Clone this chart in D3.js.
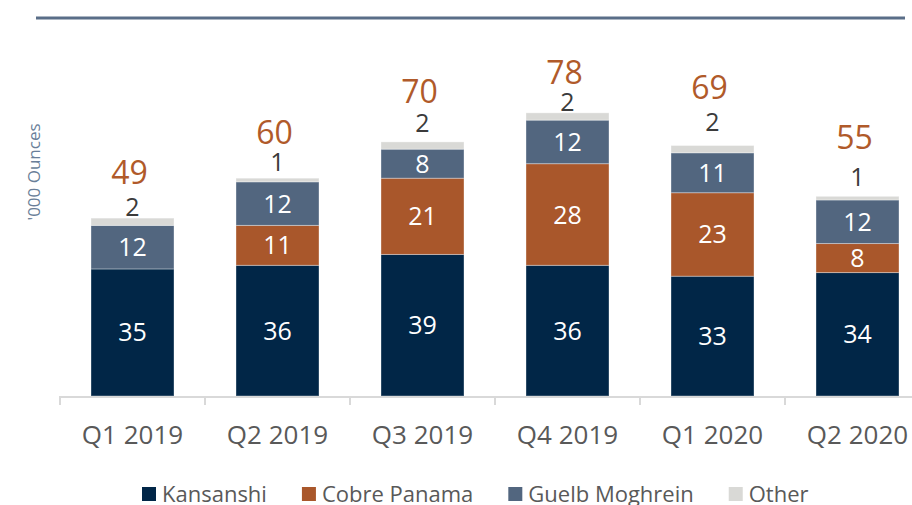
<!DOCTYPE html>
<html>
<head>
<meta charset="utf-8">
<script src="https://cdn.jsdelivr.net/npm/d3@7"></script>
<style>
    body { margin: 0; background: #fff; }
    text { font-family: "Open Sans", "Noto Sans", sans-serif; }
</style>
</head>
<body>
<div id="chart"></div>
<script>
// Data
var quarters = ["Q1 2019", "Q2 2019", "Q3 2019", "Q4 2019", "Q1 2020", "Q2 2020"];
var seriesNames = ["Kansanshi", "Cobre Panama", "Guelb Moghrein", "Other"];
var kansanshi = [35, 36, 39, 36, 33, 34];
var cobrePanama = [0, 11, 21, 28, 23, 8];
var guelbMoghrein = [12, 12, 8, 12, 11, 12];
var other = [2, 1, 2, 2, 2, 1];
var totals = [49, 60, 70, 78, 69, 55];

// label nudges above the bar top (px), as placed in the original
var otherLift = [11, 16, 19, 11, 24, 19];
var totalLift = [46, 46, 50, 40, 58, 59];

var colors = ["#012647", "#a9572b", "#52667f", "#d9d9d6"];

var width = 912, height = 505;
var baseY = 396;

var svg = d3.select("#chart")
    .append("svg")
        .attr("width", width)
        .attr("height", height);

// Scales
var x = d3.scaleBand()
    .domain(quarters)
    .range([60, 930])
    .paddingInner(0.4276)
    .paddingOuter(0.2138);

var y = d3.scaleLinear()
    .domain([0, 100])
    .range([baseY, baseY - 363]);

var step = x.step();

// Top rule
svg.append("line")
    .attr("x1", 36).attr("x2", 905)
    .attr("y1", 18).attr("y2", 18)
    .attr("stroke", "#5a6e88")
    .attr("stroke-width", 3);

// Stack the series
var rows = quarters.map(function (q, i) {
    return {q: q, "Kansanshi": kansanshi[i], "Cobre Panama": cobrePanama[i],
            "Guelb Moghrein": guelbMoghrein[i], "Other": other[i]};
});
var stacked = d3.stack().keys(seriesNames)(rows);

var layer = svg.selectAll("g.layer")
    .data(stacked)
    .enter().append("g")
        .attr("class", "layer")
        .attr("fill", function (d, i) { return colors[i]; });

layer.selectAll("rect")
    .data(function (d) { return d; })
    .enter().append("rect")
        .attr("x", function (d) { return x(d.data.q); })
        .attr("y", function (d) { return y(d[1]); })
        .attr("width", x.bandwidth())
        .attr("height", function (d) { return y(d[0]) - y(d[1]); })
        .attr("stroke", "rgba(255,255,255,0.35)")
        .attr("stroke-width", 1);

// White labels inside the first three series
stacked.slice(0, 3).forEach(function (s) {
    svg.append("g").selectAll("text")
        .data(s.filter(function (d) { return d[1] - d[0] > 0; }))
        .enter().append("text")
            .attr("x", function (d) { return x(d.data.q) + x.bandwidth() / 2; })
            .attr("y", function (d) { return (y(d[0]) + y(d[1])) / 2; })
            .attr("dy", "0.36em")
            .attr("text-anchor", "middle")
            .attr("fill", "#fff")
            .style("font-size", "25px")
            .text(function (d) { return d[1] - d[0]; });
});

// "Other" labels above the bar
var topSeries = stacked[3];
svg.append("g").selectAll("text")
    .data(topSeries)
    .enter().append("text")
        .attr("x", function (d) { return x(d.data.q) + x.bandwidth() / 2; })
        .attr("y", function (d, i) { return y(d[1]) - otherLift[i]; })
        .attr("dy", "0.36em")
        .attr("text-anchor", "middle")
        .attr("fill", "#3b3b3b")
        .style("font-size", "25px")
        .text(function (d, i) { return other[i]; });

// Totals
svg.append("g").selectAll("text")
    .data(topSeries)
    .enter().append("text")
        .attr("x", function (d) { return x(d.data.q) + x.bandwidth() / 2 - 3; })
        .attr("y", function (d, i) { return y(d[1]) - totalLift[i]; })
        .attr("dy", "0.36em")
        .attr("text-anchor", "middle")
        .attr("fill", "#b05a2a")
        .style("font-size", "32px")
        .text(function (d, i) { return totals[i]; });

// X axis: baseline with ticks between categories
var axis = svg.append("g");
axis.append("line")
    .attr("x1", 60).attr("x2", width)
    .attr("y1", baseY + 1).attr("y2", baseY + 1)
    .attr("stroke", "#d9d9d9")
    .attr("stroke-width", 2);

axis.selectAll("line.tick")
    .data(quarters)
    .enter().append("line")
        .attr("class", "tick")
        .attr("x1", function (q) { return x(q) - step * x.paddingInner() / 2; })
        .attr("x2", function (q) { return x(q) - step * x.paddingInner() / 2; })
        .attr("y1", baseY)
        .attr("y2", baseY + 9)
        .attr("stroke", "#d9d9d9")
        .attr("stroke-width", 2);

axis.selectAll("text")
    .data(quarters)
    .enter().append("text")
        .attr("x", function (q) { return x(q) + x.bandwidth() / 2; })
        .attr("y", 444)
        .attr("text-anchor", "middle")
        .attr("fill", "#595959")
        .style("font-size", "26px")
        .text(function (q) { return q; });

// Y axis title
svg.append("text")
    .attr("transform", "translate(40,172) rotate(-90)")
    .attr("text-anchor", "middle")
    .attr("fill", "#6a7f99")
    .style("font-size", "17px")
    .text("'000 Ounces");

// Legend
var legend = svg.append("g");
var lx = 142;
seriesNames.forEach(function (name, i) {
    legend.append("rect")
        .attr("x", lx).attr("y", 487)
        .attr("width", 14).attr("height", 14)
        .attr("fill", colors[i]);
    var t = legend.append("text")
        .attr("x", lx + 20)
        .attr("y", 502)
        .attr("fill", "#595959")
        .style("font-size", "22px")
        .text(name);
    lx += 20 + t.node().getComputedTextLength() + 35;
});
</script>
</body>
</html>
